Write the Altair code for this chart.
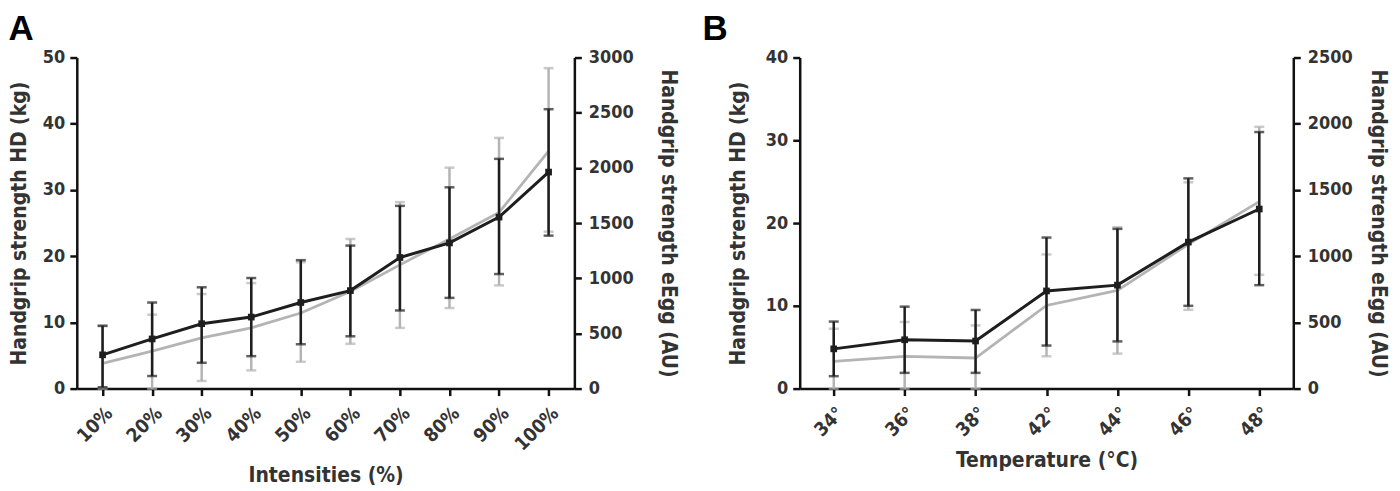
import altair as alt
import pandas as pd

FONT = "Liberation Sans Narrow, Arial Narrow, DejaVu Sans Condensed, sans-serif"
BLACK = "#1e1e1e"
GRAY = "#b4b4b4"

# Panel A: intensities
intensities = ["10%", "20%", "30%", "40%", "50%", "60%", "70%", "80%", "90%", "100%"]
a_hd_mean = [5.1, 7.5, 9.8, 10.8, 13.0, 14.8, 19.8, 22.0, 25.9, 32.7]
a_hd_lo = [0.2, 1.9, 3.9, 4.9, 6.7, 7.9, 11.8, 13.7, 17.3, 23.1]
a_hd_hi = [9.5, 13.0, 15.3, 16.7, 19.4, 21.6, 27.6, 30.4, 34.7, 42.2]
a_egg_mean = [228, 340, 460, 550, 685, 880, 1121, 1356, 1596, 2152]
a_egg_lo = [0, 0, 69, 165, 243, 406, 550, 730, 935, 1422]
a_egg_hi = [565, 670, 857, 956, 1145, 1356, 1690, 2002, 2272, 2904]

# Panel B: temperatures
temperatures = ["34°", "36°", "38°", "42°", "44°", "46°", "48°"]
b_hd_mean = [4.8, 5.9, 5.75, 11.8, 12.5, 17.7, 21.7]
b_hd_lo = [1.5, 1.9, 1.9, 5.2, 5.7, 10.0, 12.5]
b_hd_hi = [8.1, 9.9, 9.5, 18.25, 19.3, 25.4, 31.0]
b_egg_mean = [206, 244, 231, 628, 741, 1090, 1412]
b_egg_lo = [0, 0, 0, 244, 264, 595, 859]
b_egg_hi = [452, 503, 477, 1013, 1219, 1558, 1977]


def make_panel(letter, cats, hd, egg, x_title, hd_max, hd_step, egg_max, egg_step,
               width, pad, letter_dx, left_tpad, right_tpad):
    df = pd.DataFrame({
        "cat": cats,
        "hd_mean": hd[0], "hd_lo": hd[1], "hd_hi": hd[2],
        "egg_mean": egg[0], "egg_lo": egg[1], "egg_hi": egg[2],
    })
    base = alt.Chart(df)

    x = alt.X("cat:O", sort=cats, title=x_title,
              scale=alt.Scale(type="point", padding=pad),
              axis=alt.Axis(labelAngle=-45, labelFontSize=19, titleFontSize=21,
                            labelPadding=8, titlePadding=10))

    # gray series -> right axis (eEgg)
    egg_scale = alt.Scale(domain=[0, egg_max], nice=False)
    egg_axis = alt.Axis(orient="right", values=list(range(0, egg_max + 1, egg_step)),
                        format="d", labelPadding=7, titlePadding=right_tpad)

    def ey(field):
        return alt.Y(field, scale=egg_scale, axis=egg_axis, title="Handgrip strength eEgg (AU)")

    egg_rule = base.mark_rule(color=GRAY, strokeWidth=2.5).encode(
        x=x, y=ey("egg_lo:Q"), y2="egg_hi:Q")
    egg_cap_lo = base.mark_tick(color=GRAY, size=10, thickness=2.5).encode(x=x, y=ey("egg_lo:Q"))
    egg_cap_hi = base.mark_tick(color=GRAY, size=10, thickness=2.5).encode(x=x, y=ey("egg_hi:Q"))
    egg_line = base.mark_line(color=GRAY, strokeWidth=2.8).encode(x=x, y=ey("egg_mean:Q"))
    egg_layer = alt.layer(egg_rule, egg_cap_lo, egg_cap_hi, egg_line)

    # black series -> left axis (HD)
    hd_scale = alt.Scale(domain=[0, hd_max], nice=False)
    hd_axis = alt.Axis(orient="left", values=list(range(0, hd_max + 1, hd_step)),
                       labelPadding=5, titlePadding=left_tpad)

    def hy(field):
        return alt.Y(field, scale=hd_scale, axis=hd_axis, title="Handgrip strength HD (kg)")

    hd_rule = base.mark_rule(color=BLACK, strokeWidth=2.5).encode(
        x=x, y=hy("hd_lo:Q"), y2="hd_hi:Q")
    hd_cap_lo = base.mark_tick(color=BLACK, size=10, thickness=2.5).encode(x=x, y=hy("hd_lo:Q"))
    hd_cap_hi = base.mark_tick(color=BLACK, size=10, thickness=2.5).encode(x=x, y=hy("hd_hi:Q"))
    hd_line = base.mark_line(color=BLACK, strokeWidth=3).encode(x=x, y=hy("hd_mean:Q"))
    hd_pts = base.mark_square(color=BLACK, size=45, opacity=1).encode(x=x, y=hy("hd_mean:Q"))
    hd_layer = alt.layer(hd_rule, hd_cap_lo, hd_cap_hi, hd_line, hd_pts)

    return alt.layer(egg_layer, hd_layer).resolve_scale(y="independent").properties(
        width=width, height=332,
        title=alt.TitleParams(letter, anchor="start", font="Liberation Sans",
                              fontSize=35, fontWeight="bold", color="#000",
                              dx=letter_dx, offset=2),
    )


panel_a = make_panel("A", intensities, (a_hd_mean, a_hd_lo, a_hd_hi),
                     (a_egg_mean, a_egg_lo, a_egg_hi), "Intensities (%)",
                     50, 10, 3000, 500, 499, 0.52, 0, 13, 24)
panel_b = make_panel("B", temperatures, (b_hd_mean, b_hd_lo, b_hd_hi),
                     (b_egg_mean, b_egg_lo, b_egg_hi), "Temperature (°C)",
                     40, 10, 2500, 500, 495, 0.48, -25, 17, 15)

chart = alt.hconcat(panel_a, panel_b, spacing=226, bounds="flush").properties(
    padding={"left": 0, "top": 3, "right": 3, "bottom": 0}
).configure_view(
    stroke=None
).configure_axis(
    grid=False,
    domainColor="#111", domainWidth=2.5,
    tickColor="#111", tickWidth=2.5, tickSize=7,
    labelFont=FONT, labelFontSize=18, labelFontWeight="bold", labelColor="#333",
    titleFont=FONT, titleFontSize=21, titleFontWeight="bold", titleColor="#333",
)

chart.save("out.html", embed_options={"renderer": "svg", "actions": False})
